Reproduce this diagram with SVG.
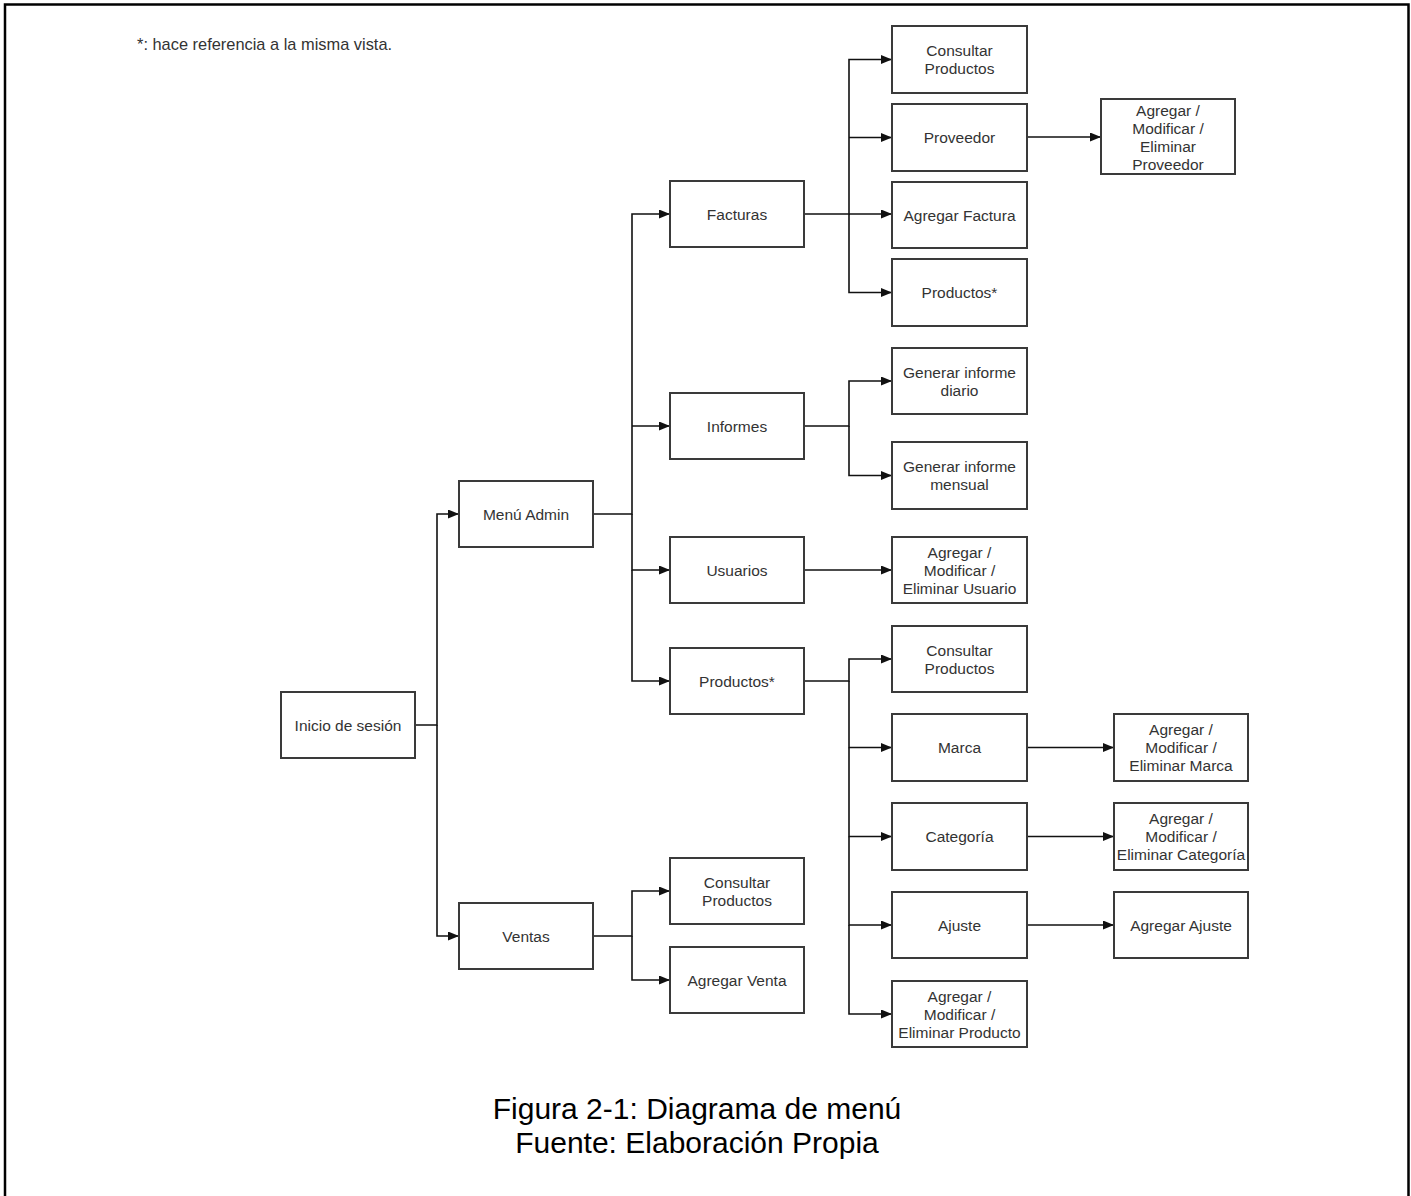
<svg xmlns="http://www.w3.org/2000/svg" width="1411" height="1196" viewBox="0 0 1411 1196">
<style>
.box{fill:#fff;stroke:#3a3a3a;stroke-width:2}
.lbl{font-family:"Liberation Sans",Arial,sans-serif;font-size:15.5px;fill:#333;text-anchor:middle}
.con{fill:none;stroke:#111;stroke-width:1.6}
.note{font-family:"Liberation Sans",Arial,sans-serif;font-size:16.4px;fill:#333}
.cap{font-family:"Liberation Sans",Arial,sans-serif;font-size:30px;fill:#000;text-anchor:middle}
</style>
<defs>
<marker id="arr" viewBox="0 0 11 9" refX="11" refY="4.5" markerWidth="11" markerHeight="9" markerUnits="userSpaceOnUse" orient="auto">
<path d="M0,0 L11,4.5 L0,9 z" fill="#111"/>
</marker>
</defs>
<rect x="0" y="0" width="1411" height="1196" fill="#fff"/>
<path d="M5,1200 V4.5 H1408.5 V1200" fill="none" stroke="#000" stroke-width="2.5"/>
<text class="note" x="137" y="50">*: hace referencia a la misma vista.</text>

<g id="connectors">
<path class="con" d="M415,725 H437 V514 H459" marker-end="url(#arr)"/>
<path class="con" d="M437,725 V936 H459" marker-end="url(#arr)"/>
<path class="con" d="M593,514 H632 V214 H670" marker-end="url(#arr)"/>
<path class="con" d="M632,426 H670" marker-end="url(#arr)"/>
<path class="con" d="M632,514 V570 H670" marker-end="url(#arr)"/>
<path class="con" d="M632,570 V681 H670" marker-end="url(#arr)"/>
<path class="con" d="M804,214 H849 V59.5 H892" marker-end="url(#arr)"/>
<path class="con" d="M849,137.5 H892" marker-end="url(#arr)"/>
<path class="con" d="M849,214 H892" marker-end="url(#arr)"/>
<path class="con" d="M849,214 V292.5 H892" marker-end="url(#arr)"/>
<path class="con" d="M1027,137 H1101" marker-end="url(#arr)"/>
<path class="con" d="M804,426 H849 V381 H892" marker-end="url(#arr)"/>
<path class="con" d="M849,426 V475.5 H892" marker-end="url(#arr)"/>
<path class="con" d="M804,570 H892" marker-end="url(#arr)"/>
<path class="con" d="M804,681 H849 V659 H892" marker-end="url(#arr)"/>
<path class="con" d="M849,681 V747.5 H892" marker-end="url(#arr)"/>
<path class="con" d="M849,747.5 V836.5 H892" marker-end="url(#arr)"/>
<path class="con" d="M849,836.5 V925 H892" marker-end="url(#arr)"/>
<path class="con" d="M849,925 V1014 H892" marker-end="url(#arr)"/>
<path class="con" d="M1027,747.5 H1114" marker-end="url(#arr)"/>
<path class="con" d="M1027,836.5 H1114" marker-end="url(#arr)"/>
<path class="con" d="M1027,925 H1114" marker-end="url(#arr)"/>
<path class="con" d="M593,936 H632 V891 H670" marker-end="url(#arr)"/>
<path class="con" d="M632,936 V980 H670" marker-end="url(#arr)"/>
</g>

<g id="n-inicio"><rect class="box" x="281" y="692" width="134" height="66"/><text class="lbl" x="348" y="730.5">Inicio de sesión</text></g>
<g id="n-menuadmin"><rect class="box" x="459" y="481" width="134" height="66"/><text class="lbl" x="526" y="519.5">Menú Admin</text></g>
<g id="n-ventas"><rect class="box" x="459" y="903" width="134" height="66"/><text class="lbl" x="526" y="941.5">Ventas</text></g>

<g id="n-facturas"><rect class="box" x="670" y="181" width="134" height="66"/><text class="lbl" x="737" y="219.5">Facturas</text></g>
<g id="n-informes"><rect class="box" x="670" y="393" width="134" height="66"/><text class="lbl" x="737" y="431.5">Informes</text></g>
<g id="n-usuarios"><rect class="box" x="670" y="537" width="134" height="66"/><text class="lbl" x="737" y="575.5">Usuarios</text></g>
<g id="n-productos"><rect class="box" x="670" y="648" width="134" height="66"/><text class="lbl" x="737" y="686.5">Productos*</text></g>
<g id="n-v-consultar"><rect class="box" x="670" y="858" width="134" height="66"/><text class="lbl" x="737" y="887.5">Consultar</text><text class="lbl" x="737" y="905.5">Productos</text></g>
<g id="n-agregarventa"><rect class="box" x="670" y="947" width="134" height="66"/><text class="lbl" x="737" y="985.5">Agregar Venta</text></g>

<g id="n-f-consultar"><rect class="box" x="892" y="26" width="135" height="67"/><text class="lbl" x="959.5" y="56">Consultar</text><text class="lbl" x="959.5" y="74">Productos</text></g>
<g id="n-proveedor"><rect class="box" x="892" y="104" width="135" height="67"/><text class="lbl" x="959.5" y="143">Proveedor</text></g>
<g id="n-agregarfactura"><rect class="box" x="892" y="182" width="135" height="66"/><text class="lbl" x="959.5" y="220.5">Agregar Factura</text></g>
<g id="n-f-productos"><rect class="box" x="892" y="259" width="135" height="67"/><text class="lbl" x="959.5" y="298">Productos*</text></g>
<g id="n-informediario"><rect class="box" x="892" y="348" width="135" height="66"/><text class="lbl" x="959.5" y="377.5">Generar informe</text><text class="lbl" x="959.5" y="395.5">diario</text></g>
<g id="n-informemensual"><rect class="box" x="892" y="442" width="135" height="67"/><text class="lbl" x="959.5" y="472">Generar informe</text><text class="lbl" x="959.5" y="490">mensual</text></g>
<g id="n-crudusuario"><rect class="box" x="892" y="537" width="135" height="66"/><text class="lbl" x="959.5" y="557.5">Agregar /</text><text class="lbl" x="959.5" y="575.5">Modificar /</text><text class="lbl" x="959.5" y="593.5">Eliminar Usuario</text></g>
<g id="n-p-consultar"><rect class="box" x="892" y="626" width="135" height="66"/><text class="lbl" x="959.5" y="655.5">Consultar</text><text class="lbl" x="959.5" y="673.5">Productos</text></g>
<g id="n-marca"><rect class="box" x="892" y="714" width="135" height="67"/><text class="lbl" x="959.5" y="753">Marca</text></g>
<g id="n-categoria"><rect class="box" x="892" y="803" width="135" height="67"/><text class="lbl" x="959.5" y="842">Categoría</text></g>
<g id="n-ajuste"><rect class="box" x="892" y="892" width="135" height="66"/><text class="lbl" x="959.5" y="930.5">Ajuste</text></g>
<g id="n-crudproducto"><rect class="box" x="892" y="981" width="135" height="66"/><text class="lbl" x="959.5" y="1001.5">Agregar /</text><text class="lbl" x="959.5" y="1019.5">Modificar /</text><text class="lbl" x="959.5" y="1037.5">Eliminar Producto</text></g>

<g id="n-crudproveedor"><rect class="box" x="1101" y="99" width="134" height="75"/><text class="lbl" x="1168" y="116">Agregar /</text><text class="lbl" x="1168" y="134">Modificar /</text><text class="lbl" x="1168" y="152">Eliminar</text><text class="lbl" x="1168" y="170">Proveedor</text></g>
<g id="n-crudmarca"><rect class="box" x="1114" y="714" width="134" height="67"/><text class="lbl" x="1181" y="735">Agregar /</text><text class="lbl" x="1181" y="753">Modificar /</text><text class="lbl" x="1181" y="771">Eliminar Marca</text></g>
<g id="n-crudcategoria"><rect class="box" x="1114" y="803" width="134" height="67"/><text class="lbl" x="1181" y="824">Agregar /</text><text class="lbl" x="1181" y="842">Modificar /</text><text class="lbl" x="1181" y="860">Eliminar Categoría</text></g>
<g id="n-agregarajuste"><rect class="box" x="1114" y="892" width="134" height="66"/><text class="lbl" x="1181" y="930.5">Agregar Ajuste</text></g>

<text class="cap" x="697" y="1119">Figura 2-1: Diagrama de menú</text>
<text class="cap" x="697" y="1153">Fuente: Elaboración Propia</text>
</svg>
